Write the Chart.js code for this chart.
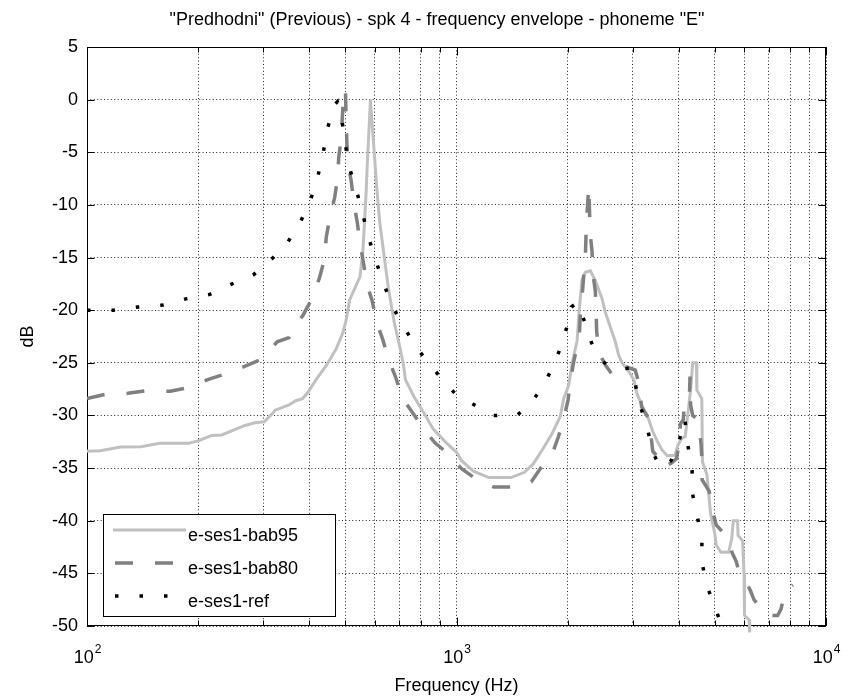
<!DOCTYPE html>
<html>
<head>
<meta charset="utf-8">
<script src="https://cdn.jsdelivr.net/npm/chart.js@4.4.0/dist/chart.umd.min.js"></script>
<style>
html, body { margin: 0; padding: 0; background: #fff; }
#wrap { width: 844px; height: 699px; }
</style>
</head>
<body>
<div id="wrap"><canvas id="envChart" width="844" height="699"></canvas></div>
<script>
const titleText = '"Predhodni" (Previous) - spk 4 - frequency envelope - phoneme "E"';
const xTitle = 'Frequency (Hz)';
const yTitle = 'dB';
const seriesNames = ['e-ses1-bab95', 'e-ses1-bab80', 'e-ses1-ref'];

const xGridValues = [100, 200, 300, 400, 500, 600, 700, 800, 900, 1000, 2000, 3000, 4000, 5000, 6000, 7000, 8000, 9000, 10000];
const xLabelValues = [100, 1000, 10000];
const xLabelExponents = ['2', '3', '4'];
const yTickValues = [-50, -45, -40, -35, -30, -25, -20, -15, -10, -5, 0, 5];

// [frequency Hz, level dB]
const bab95 = [
    [100, -33.4], [108.6, -33.35], [123.3, -33.0], [140, -32.97], [157.2, -32.65], [188.2, -32.65],
    [200.3, -32.4], [217.7, -31.9], [231.6, -31.85], [267.7, -30.95], [284.8, -30.7], [301.9, -30.6],
    [319.8, -29.7], [323.1, -29.5], [352, -29.0], [367.2, -28.6], [383.2, -28.4], [395.6, -27.85],
    [416.8, -26.6], [443.6, -25.3], [472.2, -23.7], [492.5, -22.15], [503, -20.9], [514, -19],
    [531, -17.9], [548, -16.8], [557.5, -14.6], [563.7, -11.7], [569.9, -8.5], [574.7, -5.4],
    [581, -2.2], [584.8, 0], [590.9, -2.2], [600, -5.4], [608.7, -8.5], [620, -11.7],
    [637.3, -14.9], [654.6, -18], [678.7, -21.2], [704.6, -23.7], [719.5, -25.3], [727.3, -26.6],
    [766.6, -28.2], [815.6, -29.75], [865, -31.3], [938.6, -32.6], [1000, -33.5], [1032, -34.3],
    [1111, -35.3], [1223, -35.9], [1404, -35.9], [1527, -35.4], [1609, -34.65], [1698, -33.4],
    [1810, -31.8], [1909, -30.1], [1950, -28.4], [2013, -27.1], [2055, -25.06], [2120, -22.9],
    [2150, -19.9], [2186, -17.1], [2232, -16.4], [2303, -16.25], [2376, -17.2], [2477, -18.9],
    [2528, -20.2], [2637, -22.1], [2691, -23.0], [2749, -24.3], [2806, -25.0], [2931, -25.85],
    [3018, -26.6], [3077, -27.9], [3170, -29], [3298, -30.2], [3397, -31.5], [3499, -32.5],
    [3605, -33.3], [3712, -33.8], [3899, -33.8], [3977, -32.8], [4067, -32.2], [4160, -32.0],
    [4256, -29], [4306, -27.4], [4357, -25], [4457, -25], [4472, -27.6], [4612, -28.4],
    [4632, -34.4], [4761, -35.6], [4870, -39.3], [5000, -41.2], [5046, -42.3], [5194, -43.0],
    [5453, -43.0], [5558, -41.7], [5612, -40], [5762, -40], [5782, -41.4], [5947, -41.9],
    [6000, -45], [6018, -49], [6189, -49.4], [6216, -50.6]
];

const bab80 = [
    [100, -28.4], [112, -28.0], [129, -27.9], [145, -27.65], [168, -27.7], [188, -27.35],
    [214, -26.55], [237, -26.05], [269, -25.3], [299, -24.6], [327, -23], [352, -22.6],
    [356, -22], [384, -20.5], [408, -18.8], [426, -16.9], [439, -15.2], [444, -13.1],
    [453, -11.4], [468, -9.3], [477, -7.4], [480, -5.5], [487, -3.8], [492.5, -0.8],
    [500.5, 1.0], [503, -2.2], [505, -4.1], [508.5, -6], [519, -7.75], [527.5, -9.8],
    [539, -11.7], [548, -13.6], [560, -15.5], [572, -17.5], [591, -19.1], [609, -21.2],
    [631, -22.75], [655, -24.65], [685, -26.4], [712, -28.3], [759, -29.7], [816, -31.3],
    [874, -32.6], [939, -33.5], [1032, -35.05], [1147, -36.2], [1262, -36.8], [1465, -36.8],
    [1594, -36.3], [1698, -34.9], [1810, -33.8], [1888, -32], [1950, -30.4], [2005, -28.5],
    [2032, -26.8], [2076, -24.9], [2120, -23.4], [2150, -22.4], [2163, -20.5], [2186, -18.8],
    [2210, -16.7], [2232, -15], [2245, -12], [2280, -8.2], [2290, -10.4], [2300, -12.7],
    [2327, -14.4], [2340, -16.5], [2375, -18.2], [2387, -20.1], [2395, -22], [2427, -24],
    [2528, -25.2], [2650, -26.2], [2720, -26.4], [2895, -25.4], [3046, -25.7], [3120, -27],
    [3170, -29.2], [3330, -30.4], [3370, -32.3], [3397, -33.4], [3499, -33.9], [3605, -35],
    [3824, -34.5], [3940, -34.1], [4000, -32.7], [4038, -30.8], [4110, -30.4], [4140, -28.5],
    [4270, -28.1], [4285, -26.3], [4300, -29], [4357, -30], [4510, -30.4], [4590, -32.7],
    [4612, -34], [4620, -36.1], [4831, -37.2], [4885, -38.5], [5046, -40.4], [5194, -40.9],
    [5399, -41.7], [5580, -43.1], [5721, -43.9], [5777, -44.5], [6100, -45.9], [6254, -46.7],
    [6383, -47.5], [6931, -49], [7396, -49], [7555, -48.4], [7758, -46.6], [8140, -46.1]
];

const ref = [
    [100, -20], [118, -20], [137.5, -19.7], [160.6, -19.5], [186.5, -18.9], [215, -18.5],
    [247, -17.5], [283, -16.6], [317, -15.1], [350, -13.5], [379, -11.55], [403, -9.5],
    [422, -7.2], [436, -5], [448, -2.7], [467, -0.5], [476, -0.2], [488, -1.6],
    [499, -3.95], [510, -6.2], [534, -8.4], [555, -10.6], [576, -12.9], [602, -15.1],
    [632, -17.25], [666, -19.4], [714, -21.4], [772, -23.3], [837, -25], [923, -26.7],
    [996, -28], [1131, -29.1], [1250, -30], [1458, -30], [1594, -28.75], [1709, -27.3],
    [1810, -25.6], [1901, -23.8], [1982, -21.8], [2045, -19.7], [2128, -19.25], [2217, -21],
    [2320, -23.1], [2450, -24.7], [2655, -25.6], [2988, -25.5], [3075, -27.7], [3170, -29.5],
    [3298, -31.5], [3397, -33.5], [3568, -35], [3808, -34.3], [4000, -32.5], [4147, -30.3],
    [4227, -32.8], [4341, -35.1], [4350, -37.4], [4478, -39.5], [4612, -41.7], [4620, -44],
    [4751, -46.1], [4908, -47.4], [5126, -49.2]
];

const FONT = '"Liberation Sans", Arial, Helvetica, sans-serif';

const toPoints = arr => arr.map(([f, db]) => ({ x: f, y: db }));

// axes box, inward ticks, tick labels with exponents, titles and the legend
const matlabFrame = {
    id: 'matlabFrame',
    beforeDatasetsDraw(chart) {
        const { ctx, chartArea: a, scales: { x, y } } = chart;
        const L = Math.round(a.left) + 0.5;
        const R = Math.round(a.right) - 0.5;
        const T = Math.round(a.top) + 0.5;
        const B = Math.round(a.bottom) - 0.5;

        ctx.save();
        ctx.strokeStyle = '#000';
        ctx.lineWidth = 1;
        ctx.setLineDash([]);
        ctx.strokeRect(L, T, R - L, B - T);

        ctx.beginPath();
        yTickValues.forEach(v => {
            const py = Math.round(y.getPixelForValue(v)) + 0.5;
            ctx.moveTo(L, py); ctx.lineTo(L + 7, py);
            ctx.moveTo(R, py); ctx.lineTo(R - 7, py);
        });
        xGridValues.forEach(v => {
            const px = Math.round(x.getPixelForValue(v)) + 0.5;
            const len = xLabelValues.includes(v) ? 8 : 5;
            ctx.moveTo(px, B); ctx.lineTo(px, B - len);
            ctx.moveTo(px, T); ctx.lineTo(px, T + len);
        });
        ctx.stroke();
        ctx.restore();
    },
    afterDraw(chart) {
        const { ctx, chartArea: a, scales: { x } } = chart;
        ctx.save();
        ctx.fillStyle = '#000';

        // x tick labels: 10 with superscript exponent
        xLabelValues.forEach((v, i) => {
            const px = x.getPixelForValue(v);
            ctx.font = '18px ' + FONT;
            const wBase = ctx.measureText('10').width;
            ctx.font = '12px ' + FONT;
            const wExp = ctx.measureText(xLabelExponents[i]).width;
            const start = px - (wBase + wExp) / 2;
            ctx.textAlign = 'left';
            ctx.textBaseline = 'alphabetic';
            ctx.font = '18px ' + FONT;
            ctx.fillText('10', start, a.bottom + 37);
            ctx.font = '12px ' + FONT;
            ctx.fillText(xLabelExponents[i], start + wBase + 1, a.bottom + 27);
        });

        ctx.font = '18px ' + FONT;
        ctx.textAlign = 'center';
        ctx.textBaseline = 'middle';
        ctx.fillText(titleText, 437, 20);
        ctx.fillText(xTitle, (a.left + a.right) / 2, 686);

        ctx.save();
        ctx.translate(28, (a.top + a.bottom) / 2);
        ctx.rotate(-Math.PI / 2);
        ctx.fillText(yTitle, 0, 0);
        ctx.restore();

        // legend box in the lower left corner
        const box = { left: 103, top: 514, width: 232, height: 102 };
        ctx.fillStyle = '#fff';
        ctx.fillRect(box.left, box.top, box.width, box.height);
        ctx.strokeStyle = '#000';
        ctx.lineWidth = 1;
        ctx.setLineDash([]);
        ctx.strokeRect(box.left + 0.5, box.top + 0.5, box.width, box.height);

        chart.data.datasets.forEach((ds, i) => {
            const rowY = box.top + 16 + i * 33;
            ctx.save();
            ctx.strokeStyle = ds.borderColor;
            ctx.lineWidth = ds.borderWidth;
            ctx.lineCap = 'butt';
            ctx.setLineDash(ds.borderDash || []);
            ctx.lineDashOffset = ds.borderDash ? -2 : 0;
            ctx.beginPath();
            ctx.moveTo(113, rowY);
            ctx.lineTo(186, rowY);
            ctx.stroke();
            ctx.restore();
            ctx.fillStyle = '#000';
            ctx.font = '18px ' + FONT;
            ctx.textAlign = 'left';
            ctx.textBaseline = 'middle';
            ctx.fillText(ds.label, 188, rowY + 6);
        });
        ctx.restore();
    }
};

const gridOpts = { color: 'rgba(0,0,0,0.85)', lineWidth: 1, drawTicks: false };

new Chart(document.getElementById('envChart'), {
    type: 'line',
    data: {
        datasets: [
            {
                label: seriesNames[0],
                data: toPoints(bab95),
                borderColor: '#c0c0c0',
                borderWidth: 3,
                order: 3,
                clip: false
            },
            {
                label: seriesNames[1],
                data: toPoints(bab80),
                borderColor: '#808080',
                borderWidth: 3.5,
                borderDash: [18, 22],
                order: 2
            },
            {
                label: seriesNames[2],
                data: toPoints(ref),
                borderColor: '#000000',
                borderWidth: 3.5,
                borderDash: [3.5, 21],
                order: 1
            }
        ]
    },
    options: {
        responsive: false,
        animation: false,
        layout: { padding: { top: 47, right: 18, left: 0, bottom: 0 } },
        elements: {
            point: { radius: 0, hoverRadius: 0 },
            line: { tension: 0, borderCapStyle: 'butt', fill: false }
        },
        plugins: {
            legend: { display: false },
            title: { display: false },
            tooltip: { enabled: false }
        },
        scales: {
            x: {
                type: 'logarithmic',
                min: 100,
                max: 10000,
                afterBuildTicks: s => { s.ticks = xGridValues.map(v => ({ value: v })); },
                afterFit: s => { s.height = 73; },
                ticks: { display: false },
                grid: gridOpts,
                border: { display: false, dash: [1, 2.4] }
            },
            y: {
                type: 'linear',
                min: -50,
                max: 5,
                afterBuildTicks: s => { s.ticks = yTickValues.map(v => ({ value: v })); },
                afterFit: s => { s.width = 87; },
                ticks: { color: '#000', font: { family: FONT, size: 18 }, padding: 9 },
                grid: gridOpts,
                border: { display: false, dash: [1, 2.4] }
            }
        }
    },
    plugins: [matlabFrame]
});
</script>
</body>
</html>
